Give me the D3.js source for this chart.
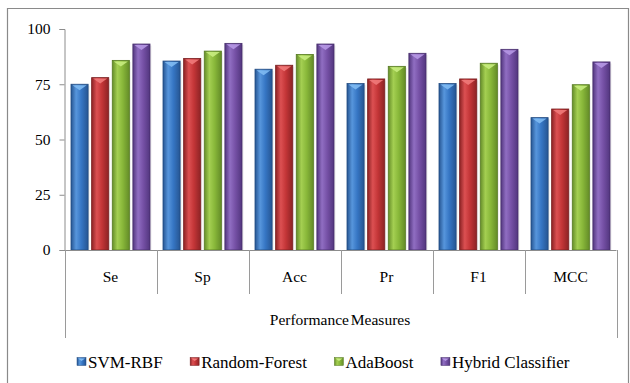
<!DOCTYPE html>
<html><head><meta charset="utf-8">
<script src="https://cdn.jsdelivr.net/npm/d3@7/dist/d3.min.js"></script>
<style>body{margin:0;background:#fff}svg{display:block}svg text{font-family:"Liberation Serif","Times New Roman",serif !important;fill:#000}</style>
</head><body>
<svg id="c" width="630" height="383" font-family="Liberation Serif"></svg>
<script>
const categories = ["Se","Sp","Acc","Pr","F1","MCC"];
const seriesNames = ["SVM-RBF","Random-Forest","AdaBoost","Hybrid Classifier"];
const svmRbf      = [75.0, 85.5, 81.8, 75.3, 75.3, 59.9];
const randomForest= [78.0, 86.7, 83.6, 77.4, 77.4, 63.8];
const adaBoost    = [85.8, 90.0, 88.5, 83.1, 84.5, 74.8];
const hybrid      = [93.2, 93.5, 93.2, 89.0, 90.8, 85.1];
const yTicks = [0,25,50,75,100];
const axisTitle = "Performance Measures";

const seriesValues = [svmRbf, randomForest, adaBoost, hybrid];
const palette = [
  {base:"#3676c4", light:"#5796dc", dark:"#265592", tri:"#7fbaf2", edge:"#224b80"},
  {base:"#c33537", light:"#dc5052", dark:"#8c2325", tri:"#f07a7a", edge:"#7a1f20"},
  {base:"#89b83a", light:"#a4cf52", dark:"#648c28", tri:"#c8ec80", edge:"#567a22"},
  {base:"#7651a6", light:"#906ec2", dark:"#52367e", tri:"#b698e4", edge:"#472e6c"}
];
const FONT = "Liberation Serif";

const svg = d3.select("#c");
const defs = svg.append("defs");
palette.forEach((p,i)=>{
  const g = defs.append("linearGradient").attr("id","g"+i).attr("x1","0").attr("x2","1").attr("y1","0").attr("y2","0");
  g.append("stop").attr("offset","0").attr("stop-color",p.dark);
  g.append("stop").attr("offset","0.3").attr("stop-color",p.light);
  g.append("stop").attr("offset","0.6").attr("stop-color",p.base);
  g.append("stop").attr("offset","1").attr("stop-color",p.dark);
});

// chart frame
svg.append("path").attr("d","M7.5,383 V8.5 H628.5 V383").attr("fill","none").attr("stroke","#8a8a8a").attr("stroke-width",1.2);

const left = 64.5, right = 616.5, yTop = 29, yBottom = 250;
const x0 = d3.scaleBand().domain(categories).range([left,right]).paddingInner(0).paddingOuter(0);
const x1 = d3.scaleBand().domain(d3.range(seriesNames.length)).range([6.5, x0.bandwidth()-6.5]).paddingInner(0.17).paddingOuter(0);
const y = d3.scaleLinear().domain([0,100]).range([yBottom,yTop]);

// y axis
const yAxis = svg.append("g").attr("transform",`translate(${left},0)`)
  .call(d3.axisLeft(y).tickValues(yTicks).tickSize(5).tickPadding(9));
yAxis.attr("font-family",FONT);
yAxis.select(".domain").attr("stroke","#8c8c8c");
yAxis.selectAll(".tick line").attr("stroke","#8c8c8c");
yAxis.selectAll("text").attr("font-size",15.5).attr("font-family",FONT).attr("fill","#000");

// bars
const groups = svg.append("g").selectAll("g").data(categories).join("g")
  .attr("transform",d=>`translate(${x0(d)},0)`);
groups.each(function(cat,ci){
  const g = d3.select(this);
  seriesValues.forEach((vals,si)=>{
    const v = vals[ci], bx = x1(si), bw = x1.bandwidth(), top = y(v);
    g.append("rect").attr("x",bx+1.5).attr("y",top+1.5).attr("width",bw).attr("height",yBottom-top-1.5)
      .attr("fill","#000").attr("opacity",0.08);
    g.append("rect").attr("x",bx).attr("y",top).attr("width",bw).attr("height",yBottom-top)
      .attr("fill",`url(#g${si})`).attr("stroke",palette[si].edge).attr("stroke-width",0.8);
    g.append("path").attr("d",`M${bx+1.5},${top+1} L${bx+bw-1.5},${top+1} L${bx+bw/2},${top+6} Z`)
      .attr("fill",palette[si].tri).attr("opacity",0.9);
  });
});

// x axis baseline & category dividers
svg.append("line").attr("x1",left).attr("x2",right).attr("y1",yBottom+0.5).attr("y2",yBottom+0.5).attr("stroke","#8c8c8c");
const divs = x0.domain().map(d=>x0(d)).concat([right]);
svg.append("g").selectAll("line").data(divs).join("line")
  .attr("x1",d=>Math.round(d)+0.5).attr("x2",d=>Math.round(d)+0.5)
  .attr("y1",yBottom).attr("y2",(d,i)=> (i===0||i===divs.length-1)?338:294)
  .attr("stroke","#9a9a9a");

svg.append("g").selectAll("text").data(categories).join("text")
  .attr("x",d=>x0(d)+x0.bandwidth()/2).attr("y",277).attr("dy","0.35em")
  .attr("text-anchor","middle").attr("font-family",FONT).attr("font-size",15.5).text(d=>d);

svg.append("text").attr("x",(left+right)/2-0.5).attr("y",320).attr("dy","0.35em")
  .attr("text-anchor","middle").attr("font-family",FONT).attr("font-size",15.5).attr("word-spacing","-2px").text(axisTitle);

// legend
const leg = svg.append("g");
let lx = 77;
seriesNames.forEach((name,i)=>{
  const it = leg.append("g").attr("transform",`translate(${lx},0)`);
  it.append("rect").attr("x",0).attr("y",357.5).attr("width",9).attr("height",8)
    .attr("fill",`url(#g${i})`).attr("stroke",palette[i].edge).attr("stroke-width",0.5);
  it.append("path").attr("d","M1,358.5 L8,358.5 L4.5,361 Z").attr("fill",palette[i].tri);
  const t = it.append("text").attr("x",11).attr("y",362).attr("dy","0.35em")
    .attr("font-family",FONT).attr("font-size",17).text(name);
  lx += 11 + t.node().getComputedTextLength() + 27.5;
});
</script>
</body></html>
